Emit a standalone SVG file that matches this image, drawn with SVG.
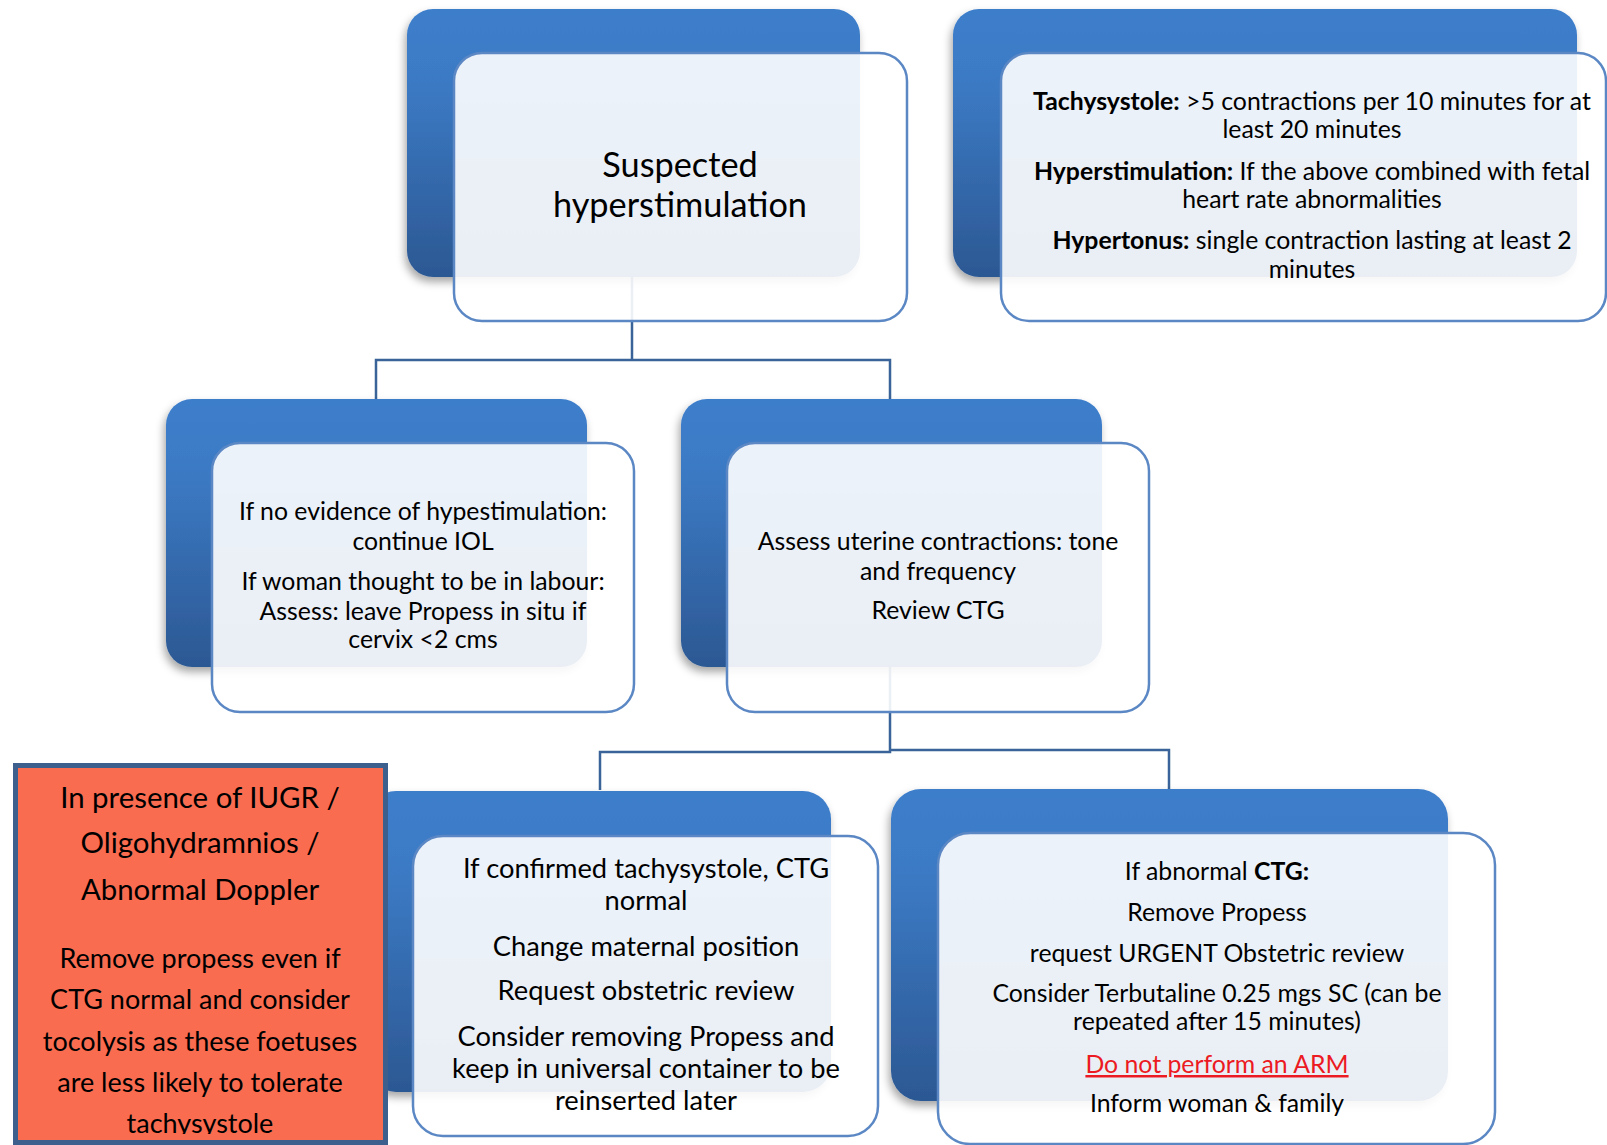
<svg xmlns="http://www.w3.org/2000/svg" width="1607" height="1145" viewBox="0 0 1607 1145">
<style>
.blue{fill:url(#bg);filter:url(#sh)}
.card{fill:#ffffff;fill-opacity:0.9;stroke:#5b88c4;stroke-width:2.5}
.conn{fill:none;stroke:#3a6399;stroke-width:2.5}
text{font-family:Lato,"Open Sans","Liberation Sans",sans-serif;fill:#000;text-anchor:middle}
.b{font-weight:bold}
.t22{font-size:24.8px}
.t24{font-size:27.3px}
.o1{font-size:29.4px}
.o2{font-size:27px}
.t33{font-size:34.3px}
.red{fill:#ec1a22;text-decoration:underline}
</style>
<defs>
<linearGradient id="bg" x1="0" y1="0" x2="0" y2="1">
<stop offset="0" stop-color="#3d7ecb"/>
<stop offset="0.3" stop-color="#3b79c3"/>
<stop offset="1" stop-color="#2c5893"/>
</linearGradient>
<filter id="sh" x="-10%" y="-10%" width="120%" height="130%">
<feDropShadow dx="-2" dy="5" stdDeviation="4" flood-color="#000" flood-opacity="0.35"/>
</filter>
<clipPath id="oclip"><rect x="0" y="760" width="400" height="374"/></clipPath>
</defs>
<rect width="1607" height="1145" fill="#ffffff"/>

<g id="connectors">
<path class="conn" d="M632,277 V360 H376 V399 M632,360 H890 V399"/>
<path class="conn" d="M890,667 V752 H600 V790 M890,750 H1169 V789"/>
</g>

<g id="n-suspected">
<rect class="blue" x="407" y="9" width="453" height="268" rx="26"/>
<rect class="card" x="454" y="53" width="453" height="268" rx="28"/>
<text class="t33" x="680" y="177">Suspected</text>
<text class="t33" x="680" y="217">hyperstimulation</text>
</g>

<g id="n-definitions">
<rect class="blue" x="953" y="9" width="624" height="268" rx="26"/>
<rect class="card" x="1001" y="53" width="605" height="268" rx="28"/>
<text class="t22" x="1312" y="110"><tspan class="b">Tachysystole:</tspan> &gt;5 contractions per 10 minutes for at</text>
<text class="t22" x="1312" y="138">least 20 minutes</text>
<text class="t22" x="1312" y="180"><tspan class="b">Hyperstimulation:</tspan> If the above combined with fetal</text>
<text class="t22" x="1312" y="208">heart rate abnormalities</text>
<text class="t22" x="1312" y="249"><tspan class="b">Hypertonus:</tspan> single contraction lasting at least 2</text>
<text class="t22" x="1312" y="278">minutes</text>
</g>

<g id="n-no-evidence">
<rect class="blue" x="166" y="399" width="421" height="268" rx="26"/>
<rect class="card" x="212" y="443" width="422" height="269" rx="28"/>
<text class="t22" x="423" y="520">If no evidence of hypestimulation:</text>
<text class="t22" x="423" y="550">continue IOL</text>
<text class="t22" x="423" y="590">If woman thought to be in labour:</text>
<text class="t22" x="423" y="620">Assess: leave Propess in situ if</text>
<text class="t22" x="423" y="648">cervix &lt;2 cms</text>
</g>

<g id="n-assess">
<rect class="blue" x="681" y="399" width="421" height="268" rx="26"/>
<rect class="card" x="727" y="443" width="422" height="269" rx="28"/>
<text class="t22" x="938" y="550">Assess uterine contractions: tone</text>
<text class="t22" x="938" y="580">and frequency</text>
<text class="t22" x="938" y="619">Review CTG</text>
</g>

<g id="n-confirmed">
<rect class="blue" x="368" y="791" width="463" height="301" rx="28"/>
<rect class="card" x="413" y="836" width="465" height="300" rx="30"/>
<text class="t24" x="646" y="878">If confirmed tachysystole, CTG</text>
<text class="t24" x="646" y="910">normal</text>
<text class="t24" x="646" y="956">Change maternal position</text>
<text class="t24" x="646" y="1000">Request obstetric review</text>
<text class="t24" x="646" y="1046">Consider removing Propess and</text>
<text class="t24" x="646" y="1078">keep in universal container to be</text>
<text class="t24" x="646" y="1110">reinserted later</text>
</g>

<g id="n-abnormal">
<rect class="blue" x="891" y="789" width="557" height="312" rx="30"/>
<rect class="card" x="938" y="833" width="557" height="311" rx="32"/>
<text class="t22" x="1217" y="880">If abnormal <tspan class="b">CTG:</tspan></text>
<text class="t22" x="1217" y="921">Remove Propess</text>
<text class="t22" x="1217" y="962">request URGENT Obstetric review</text>
<text class="t22" x="1217" y="1002">Consider Terbutaline 0.25 mgs SC (can be</text>
<text class="t22" x="1217" y="1030">repeated after 15 minutes)</text>
<text class="t22 red" x="1217" y="1073">Do not perform an ARM</text>
<text class="t22" x="1217" y="1112">Inform woman &amp; family</text>
</g>

<g id="n-iugr">
<rect x="15.5" y="765.5" width="370" height="377" fill="#fa6c50" stroke="#3d5f8e" stroke-width="5"/>
<g clip-path="url(#oclip)">
<text class="o1" x="200" y="808">In presence of IUGR /</text>
<text class="o1" x="200" y="853">Oligohydramnios /</text>
<text class="o1" x="200" y="900">Abnormal Doppler</text>
<text class="o2" x="200" y="968">Remove propess even if</text>
<text class="o2" x="200" y="1009">CTG normal and consider</text>
<text class="o2" x="200" y="1051">tocolysis as these foetuses</text>
<text class="o2" x="200" y="1092">are less likely to tolerate</text>
<text class="o2" x="200" y="1133">tachysystole</text>
</g>
</g>
</svg>
